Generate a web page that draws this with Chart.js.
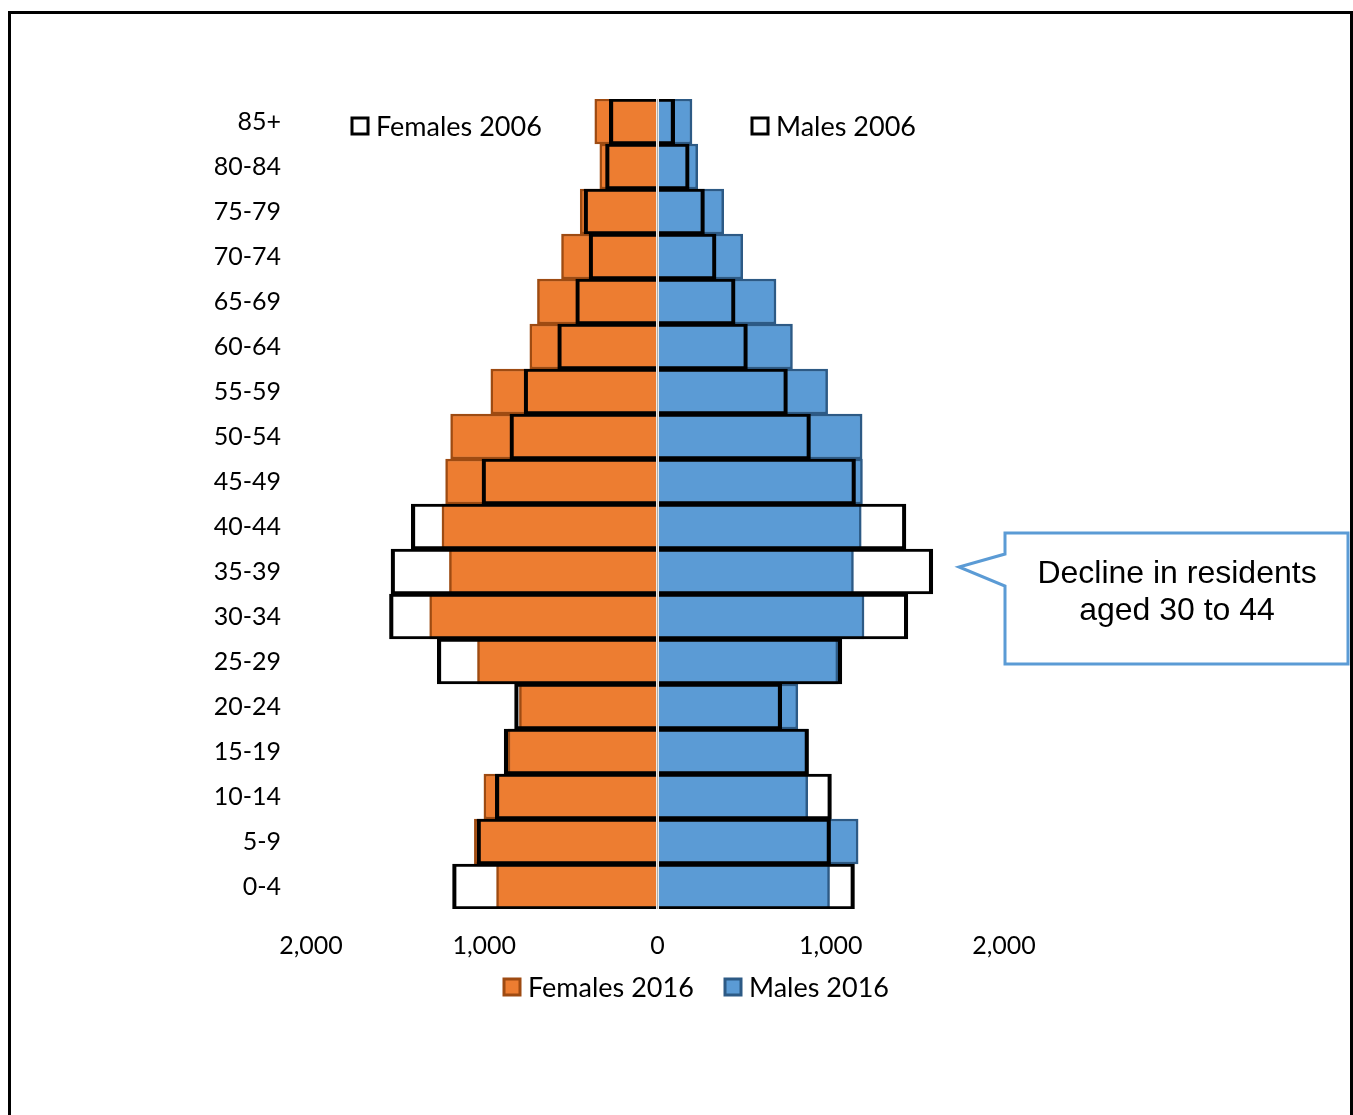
<!DOCTYPE html>
<html>
<head>
<meta charset="utf-8">
<script src="https://cdn.jsdelivr.net/npm/chart.js@4/dist/chart.umd.min.js"></script>
<style>
  body { margin: 0; background: #fff; }
  #wrap { position: relative; width: 1353px; height: 1115px; overflow: hidden; }
  #frame { position: absolute; left: 8px; top: 11px; width: 1345px; height: 1200px; border: 3px solid #000; box-sizing: border-box; }
  canvas { position: absolute; left: 0; top: 0; }
</style>
</head>
<body>
<div id="wrap">
  <div id="frame"></div>
  <canvas id="pyramid" width="1353" height="1115"></canvas>
</div>
<script>
// age groups, youngest first (axis is reversed so 85+ sits on top)
const ageGroups = ['0-4', '5-9', '10-14', '15-19', '20-24', '25-29', '30-34', '35-39', '40-44',
  '45-49', '50-54', '55-59', '60-64', '65-69', '70-74', '75-79', '80-84', '85+'];

const females2016 = [929, 1057, 1002, 863, 797, 1039, 1315, 1201, 1244, 1223, 1194, 962, 737, 693, 554, 446, 333, 362];
const males2016 = [993, 1158, 867, 867, 810, 1041, 1192, 1131, 1176, 1183, 1181, 982, 779, 684, 492, 382, 232, 199];
const females2006 = [1183, 1042, 936, 885, 825, 1271, 1547, 1538, 1421, 1013, 852, 770, 576, 472, 395, 424, 300, 278];
const males2006 = [1137, 999, 1004, 872, 717, 1064, 1445, 1589, 1434, 1143, 883, 750, 519, 448, 338, 271, 183, 99];

const xTicks = [-2000, -1000, 0, 1000, 2000];

const ORANGE = '#ED7D31', ORANGE_DARK = '#9E4B12';
const BLUE = '#5B9BD5', BLUE_DARK = '#2D5A85';
const FONT = 'Lato, "Open Sans", sans-serif';

function neg(arr) { return arr.map(v => -v); }
function fmt(v) { return Math.abs(v).toLocaleString('en-US'); }

// centre line, legend boxes and the callout drawn over the chart
const extras = {
  id: 'extras',
  afterDatasetsDraw(chart) {
    const ctx = chart.ctx;
    const zero = chart.scales.x.getPixelForValue(0);
    ctx.save();
    ctx.strokeStyle = '#ffffff';
    ctx.lineWidth = 3;
    ctx.beginPath(); ctx.moveTo(zero, chart.chartArea.top); ctx.lineTo(zero, chart.chartArea.bottom); ctx.stroke();
    ctx.strokeStyle = '#b5aea6';
    ctx.lineWidth = 1.5;
    ctx.beginPath(); ctx.moveTo(zero, chart.chartArea.top); ctx.lineTo(zero, chart.chartArea.bottom); ctx.stroke();
    ctx.restore();
  },
  afterDraw(chart) {
    const ctx = chart.ctx;
    ctx.save();
    ctx.font = '27px ' + FONT;
    ctx.textBaseline = 'middle';
    const items = [
      { x: 352, y: 126, fill: '#fff', stroke: '#000', text: chart.data.datasets[2].label },
      { x: 752, y: 126, fill: '#fff', stroke: '#000', text: chart.data.datasets[3].label },
      { x: 504, y: 987, fill: ORANGE, stroke: ORANGE_DARK, text: chart.data.datasets[0].label },
      { x: 725, y: 987, fill: BLUE, stroke: BLUE_DARK, text: chart.data.datasets[1].label }
    ];
    items.forEach(it => {
      ctx.fillStyle = it.fill;
      ctx.fillRect(it.x, it.y - 8, 16, 16);
      ctx.strokeStyle = it.stroke;
      ctx.lineWidth = 3;
      ctx.strokeRect(it.x, it.y - 8, 16, 16);
      ctx.fillStyle = '#000';
      ctx.fillText(it.text, it.x + 24, it.y + 1);
    });

    // callout
    ctx.beginPath();
    ctx.moveTo(1005, 533);
    ctx.lineTo(1348, 533);
    ctx.lineTo(1348, 664);
    ctx.lineTo(1005, 664);
    ctx.lineTo(1005, 586);
    ctx.lineTo(959, 567);
    ctx.lineTo(1005, 554);
    ctx.closePath();
    ctx.fillStyle = '#fff';
    ctx.fill();
    ctx.strokeStyle = BLUE;
    ctx.lineWidth = 3;
    ctx.stroke();
    ctx.fillStyle = '#000';
    ctx.font = '32px "Liberation Sans", Arial, sans-serif';
    ctx.textAlign = 'center';
    ctx.fillText('Decline in residents', 1177, 574);
    ctx.fillText('aged 30 to 44', 1177, 611);
    ctx.restore();
  }
};

const ctx = document.getElementById('pyramid').getContext('2d');
new Chart(ctx, {
  type: 'bar',
  data: {
    labels: ageGroups,
    datasets: [{
      label: 'Females 2016',
      data: neg(females2016),
      backgroundColor: ORANGE,
      borderColor: ORANGE_DARK,
      borderWidth: 2.5,
      order: 2
    }, {
      label: 'Males 2016',
      data: males2016,
      backgroundColor: BLUE,
      borderColor: BLUE_DARK,
      borderWidth: 2.5,
      order: 2
    }, {
      label: 'Females 2006',
      data: neg(females2006),
      backgroundColor: 'rgba(0,0,0,0)',
      borderColor: '#000',
      borderWidth: { left: 3.5, right: 3.5, top: 2.5, bottom: 2.5 },
      order: 1
    }, {
      label: 'Males 2006',
      data: males2006,
      backgroundColor: 'rgba(0,0,0,0)',
      borderColor: '#000',
      borderWidth: { left: 3.5, right: 3.5, top: 2.5, bottom: 2.5 },
      order: 1
    }]
  },
  options: {
    indexAxis: 'y',
    responsive: false,
    animation: false,
    grouped: false,
    barPercentage: 1,
    categoryPercentage: 1,
    layout: { padding: { left: 0, top: 99, right: 349, bottom: 145 } },
    plugins: { legend: { display: false }, tooltip: { enabled: false } },
    scales: {
      x: {
        min: -2000,
        max: 2000,
        afterBuildTicks: (scale) => { scale.ticks = xTicks.map(v => ({ value: v })); },
        afterFit: (scale) => { scale.height = 61; },
        grid: { display: false, drawTicks: false },
        border: { display: false },
        ticks: {
          padding: 22,
          color: '#000',
          font: { family: FONT, size: 25 },
          callback: (v) => fmt(v)
        }
      },
      y: {
        reverse: true,
        afterFit: (scale) => { scale.width = 311; },
        grid: { display: false, drawTicks: false },
        border: { display: false },
        ticks: {
          padding: 30,
          color: '#000',
          font: { family: FONT, size: 25 }
        }
      }
    }
  },
  plugins: [extras]
});
</script>
</body>
</html>
